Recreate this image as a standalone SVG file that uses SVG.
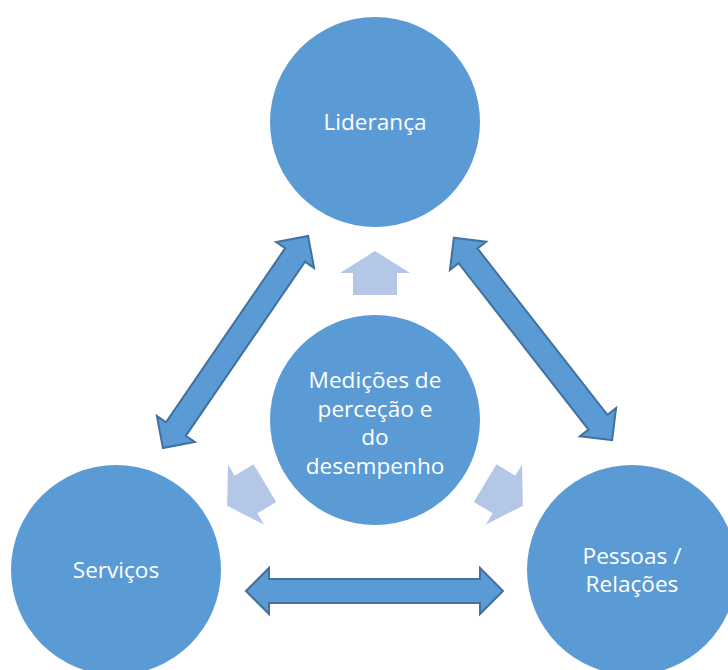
<svg xmlns="http://www.w3.org/2000/svg" width="728" height="670" viewBox="0 0 728 670">
<defs>
<style>
.node{fill:#5B9BD5;}
.lbl{fill:#FFFFFF;font-family:"Open Sans","Liberation Sans",sans-serif;font-size:22.6px;text-anchor:middle;}
.big{fill:#5B9BD5;stroke:#41719C;stroke-width:2;stroke-linejoin:miter;}
.small{fill:#B4C7E7;}
</style>
<polygon id="dbl" points="-128.5,0 -105.5,-23 -105.5,-12 105.5,-12 105.5,-23 128.5,0 105.5,23 105.5,12 -105.5,12 -105.5,23"/>
<polygon id="up" points="0,-22 35,0 22,0 22,22 -22,22 -22,0 -35,0"/>
</defs>
<rect width="728" height="670" fill="#FFFFFF"/>
<g id="connectors">
<use href="#dbl" class="big" transform="translate(235.5,342) rotate(-55.6)"/>
<use href="#dbl" class="big" transform="translate(533,339) rotate(52)"/>
<use href="#dbl" class="big" transform="translate(374.5,591)"/>
<use href="#up" class="small" transform="translate(375,273)"/>
<use href="#up" class="small" transform="translate(246,494.5) rotate(239)"/>
<use href="#up" class="small" transform="translate(504,494.5) rotate(121)"/>
</g>
<g id="lideranca">
<circle class="node" cx="375" cy="122" r="105"/>
<text class="lbl" x="375" y="130">Liderança</text>
</g>
<g id="medicoes">
<circle class="node" cx="375" cy="420" r="105"/>
<text class="lbl" x="375" y="388">Medições de</text>
<text class="lbl" x="375" y="417">perceção e</text>
<text class="lbl" x="375" y="445">do</text>
<text class="lbl" x="375" y="474">desempenho</text>
</g>
<g id="servicos">
<circle class="node" cx="116" cy="570" r="105"/>
<text class="lbl" x="116" y="578">Serviços</text>
</g>
<g id="pessoas">
<circle class="node" cx="632" cy="570" r="105"/>
<text class="lbl" x="632" y="564">Pessoas /</text>
<text class="lbl" x="632" y="592">Relações</text>
</g>
</svg>
